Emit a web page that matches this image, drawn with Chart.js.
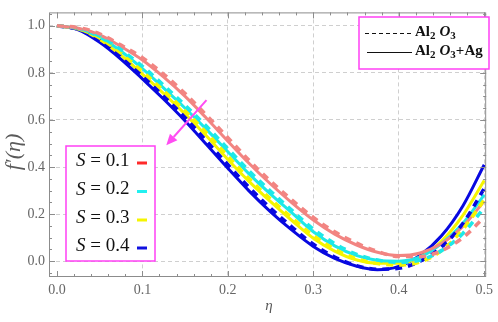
<!DOCTYPE html>
<html><head><meta charset="utf-8">
<script src="https://cdn.jsdelivr.net/npm/chart.js@4/dist/chart.umd.min.js"></script>
<style>html,body{margin:0;padding:0;background:#fff;}#wrap{width:498px;height:322px;position:relative;}</style>
</head><body><div id="wrap"><canvas id="c" width="498" height="322"></canvas></div>
<script>
// ---- data ----
const eta = [0,0.025,0.05,0.075,0.1,0.125,0.15,0.175,0.2,0.225,0.25,0.275,0.3,0.325,0.35,0.375,0.4,0.425,0.45,0.475,0.5];
const sLabels = ['0.1','0.2','0.3','0.4'];
// Al2O3 + Ag (solid)
const hyb_S01 = [1.0,0.99,0.962,0.912,0.855,0.782,0.70,0.607,0.51,0.415,0.328,0.248,0.175,0.115,0.07,0.038,0.024,0.035,0.075,0.148,0.255];
const hyb_S02 = [1.0,0.988,0.952,0.892,0.818,0.735,0.65,0.56,0.465,0.37,0.285,0.205,0.125,0.065,0.025,0.004,0.0,0.018,0.075,0.16,0.282];
const hyb_S03 = [1.0,0.986,0.942,0.875,0.795,0.712,0.625,0.532,0.432,0.338,0.253,0.173,0.098,0.043,0.006,-0.009,-0.009,0.018,0.085,0.195,0.343];
const hyb_S04 = [1.0,0.983,0.93,0.858,0.775,0.688,0.596,0.496,0.395,0.298,0.21,0.132,0.063,0.012,-0.02,-0.036,-0.022,0.025,0.108,0.235,0.41];
// Al2O3 (dashed)
const al_S01 = [1.0,0.992,0.966,0.918,0.864,0.794,0.712,0.62,0.525,0.428,0.34,0.26,0.186,0.125,0.078,0.042,0.02,0.02,0.045,0.1,0.187];
const al_S02 = [1.0,0.99,0.956,0.898,0.828,0.747,0.662,0.573,0.478,0.383,0.297,0.216,0.136,0.075,0.03,0.005,-0.005,0.005,0.045,0.118,0.227];
const al_S03 = [1.0,0.988,0.948,0.884,0.806,0.724,0.638,0.545,0.446,0.35,0.264,0.184,0.109,0.051,0.011,-0.01,-0.016,-0.003,0.045,0.135,0.261];
const al_S04 = [1.0,0.985,0.937,0.868,0.786,0.7,0.61,0.51,0.41,0.313,0.225,0.145,0.072,0.018,-0.018,-0.034,-0.03,0.0,0.06,0.16,0.309];
const xTicks = [0,0.1,0.2,0.3,0.4,0.5];
const yTicks = [0,0.2,0.4,0.6,0.8,1.0];
const colors = ['#f28582','#1ee8e8','#f5f500','#0808e0'];
const legendMarkColors = ['#ff2a2a','#22f0f0','#f5f500','#1010e0'];

const hybSeries = [hyb_S01,hyb_S02,hyb_S03,hyb_S04];
const alSeries = [al_S01,al_S02,al_S03,al_S04];
const pts = arr => arr.map((v,i)=>({x:eta[i],y:v}));
const datasets = [];
alSeries.forEach((s,i)=>datasets.push({label:'Al2O3 S='+sLabels[i],data:pts(s),borderColor:colors[i],borderWidth:3.6,borderDash:[7,6],pointRadius:0,cubicInterpolationMode:'monotone',fill:false}));
hybSeries.forEach((s,i)=>datasets.push({label:'Al2O3+Ag S='+sLabels[i],data:pts(s),borderColor:colors[i],borderWidth:3,pointRadius:0,cubicInterpolationMode:'monotone',fill:false}));

const SERIF = '"Liberation Serif","Times New Roman",serif';
const deco = {
  id:'deco',
  afterDraw(chart){
    const ctx = chart.ctx, ca = chart.chartArea, xs = chart.scales.x, ys = chart.scales.y;
    ctx.save();
    // frame
    ctx.strokeStyle = '#8c8c8c'; ctx.lineWidth = 1;
    ctx.strokeRect(ca.left+0.5, ca.top+0.5, ca.right-ca.left-1, ca.bottom-ca.top-1);
    // ticks
    ctx.beginPath();
    for(let k=0;k<=25;k++){
      const v = k*0.02; const px = Math.round(xs.getPixelForValue(v))+0.5;
      const L = (k%5===0)?6:3;
      ctx.moveTo(px, ca.bottom); ctx.lineTo(px, ca.bottom-L);
      ctx.moveTo(px, ca.top); ctx.lineTo(px, ca.top+L);
    }
    for(let k=-1;k<=21;k++){
      const v = k*0.05; const py = Math.round(ys.getPixelForValue(v))+0.5;
      if(py<ca.top||py>ca.bottom) continue;
      const L = (k%4===0)?6:3;
      ctx.moveTo(ca.left, py); ctx.lineTo(ca.left+L, py);
      ctx.moveTo(ca.right, py); ctx.lineTo(ca.right-L, py);
    }
    ctx.stroke();
    // arrow
    const ax0 = xs.getPixelForValue(0.175), ay0 = ys.getPixelForValue(0.684);
    const ax1 = xs.getPixelForValue(0.128), ay1 = ys.getPixelForValue(0.493);
    ctx.strokeStyle = '#ff4cf2'; ctx.fillStyle = '#ff4cf2'; ctx.lineWidth = 2;
    const ang = Math.atan2(ay1-ay0, ax1-ax0);
    const hl = 11, hw = 5;
    const bx = ax1 - hl*Math.cos(ang), by = ay1 - hl*Math.sin(ang);
    ctx.beginPath(); ctx.moveTo(ax0,ay0); ctx.lineTo(bx,by); ctx.stroke();
    ctx.beginPath(); ctx.moveTo(ax1,ay1);
    ctx.lineTo(bx + hw*Math.sin(ang), by - hw*Math.cos(ang));
    ctx.lineTo(bx - hw*Math.sin(ang), by + hw*Math.cos(ang));
    ctx.closePath(); ctx.fill();
    // legend 1 (S values)
    ctx.fillStyle = '#fff'; ctx.fillRect(66,146,89,115);
    ctx.strokeStyle = '#ff40f5'; ctx.lineWidth = 1.5; ctx.strokeRect(66,146,89,115);
    const rows = [161,189.5,218,246];
    ctx.textBaseline = 'middle'; ctx.textAlign = 'left';
    rows.forEach((ry,i)=>{
      let x = 76;
      ctx.fillStyle = '#111';
      ctx.font = 'italic 19px '+SERIF; ctx.fillText('S', x, ry); x += ctx.measureText('S').width;
      ctx.font = '19px '+SERIF; ctx.fillText(' = '+sLabels[i], x, ry);
      ctx.strokeStyle = legendMarkColors[i]; ctx.lineWidth = 3;
      ctx.beginPath(); ctx.moveTo(137, ry+2); ctx.lineTo(147, ry+2); ctx.stroke();
    });
    // legend 2
    ctx.fillStyle = '#fff'; ctx.fillRect(359,17,130,52);
    ctx.strokeStyle = '#ff40f5'; ctx.lineWidth = 1.5; ctx.strokeRect(359,17,130,52);
    ctx.strokeStyle = '#111'; ctx.lineWidth = 1;
    ctx.setLineDash([4,3]); ctx.beginPath(); ctx.moveTo(365,33.5); ctx.lineTo(412,33.5); ctx.stroke();
    ctx.setLineDash([]); ctx.beginPath(); ctx.moveTo(367,52.5); ctx.lineTo(412,52.5); ctx.stroke();
    const drawName = (x,y,withAg)=>{
      ctx.fillStyle = '#111'; ctx.textBaseline = 'middle';
      ctx.font = 'bold 15px '+SERIF; ctx.fillText('Al', x, y); x += ctx.measureText('Al').width;
      ctx.font = 'bold 11px '+SERIF; ctx.fillText('2', x, y+4); x += ctx.measureText('2').width + 4;
      ctx.font = 'italic bold 15px '+SERIF; ctx.fillText('O', x, y); x += ctx.measureText('O').width;
      ctx.font = 'bold 11px '+SERIF; ctx.fillText('3', x, y+4); x += ctx.measureText('3').width;
      if(withAg){ ctx.font = 'bold 15px '+SERIF; ctx.fillText('+Ag', x, y); }
    };
    drawName(415,32,false);
    drawName(415,51,true);
    // axis titles
    ctx.fillStyle = '#5a5a5a';
    ctx.font = 'italic 15px '+SERIF; ctx.textAlign = 'center'; ctx.textBaseline = 'middle';
    ctx.fillText('\u03B7', 269, 306);
    ctx.translate(14,152); ctx.rotate(-Math.PI/2);
    ctx.font = 'italic 22px '+SERIF; ctx.fillText('f\u2032(\u03B7)', 0, 0);
    ctx.restore();
  }
};

new Chart(document.getElementById('c'), {
  type:'line',
  data:{datasets},
  options:{
    responsive:false, animation:false, devicePixelRatio:1,
    layout:{padding:{top:2,right:8,left:0,bottom:0}},
    plugins:{legend:{display:false},tooltip:{enabled:false}},
    scales:{
      x:{type:'linear',min:-0.0093,max:0.5023,
        afterBuildTicks:s=>{s.ticks = xTicks.map(v=>({value:v}));},
        afterFit:s=>{s.height=45;},
        ticks:{callback:v=>v.toFixed(1),font:{family:SERIF,size:14},color:'#666',padding:5,maxRotation:0,autoSkip:false},
        grid:{drawTicks:false,color:c=>(c.tick&&c.tick.value===0)?'rgba(0,0,0,0)':'#cfcfcf',lineWidth:1},
        border:{display:false,dash:[4,3]}
      },
      y:{type:'linear',min:-0.067,max:1.057,
        afterBuildTicks:s=>{s.ticks = yTicks.map(v=>({value:v}));},
        afterFit:s=>{s.width=49;},
        ticks:{callback:v=>v.toFixed(1),font:{family:SERIF,size:14},color:'#666',padding:4,autoSkip:false},
        grid:{drawTicks:false,color:'#cfcfcf',lineWidth:1},
        border:{display:false,dash:[4,3]}
      }
    }
  },
  plugins:[deco]
});
</script></body></html>
